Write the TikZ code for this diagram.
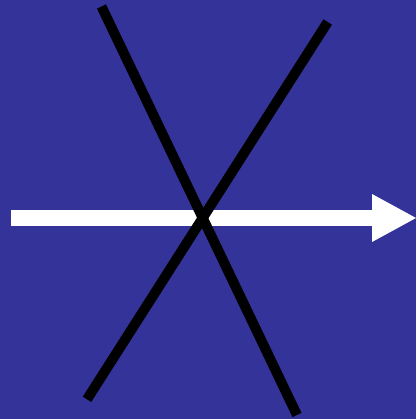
\documentclass[tikz,border=0pt]{standalone}
\definecolor{bg}{HTML}{333399}
\begin{document}
\begin{tikzpicture}[x=1pt,y=-1pt,
  blackline/.style={line width=10pt, draw=black}]
\fill[bg] (0,0) rectangle (416,419);
\useasboundingbox (0,0) rectangle (416,419);
\coordinate (s) at (11,218);
\coordinate (b) at (372,218);
\coordinate (t) at (416,218);
\fill[white] (11,210) rectangle (373,226);
\fill[white] (372,194) -- (416,218) -- (372,242) -- cycle;
\coordinate (a1) at (101.5,6.5);
\coordinate (a2) at (297,415);
\coordinate (c1) at (327.7,22);
\coordinate (c2) at (87,399.3);
\draw[blackline] (a1) -- (a2);
\draw[blackline] (c1) -- (c2);
\end{tikzpicture}
\end{document}
